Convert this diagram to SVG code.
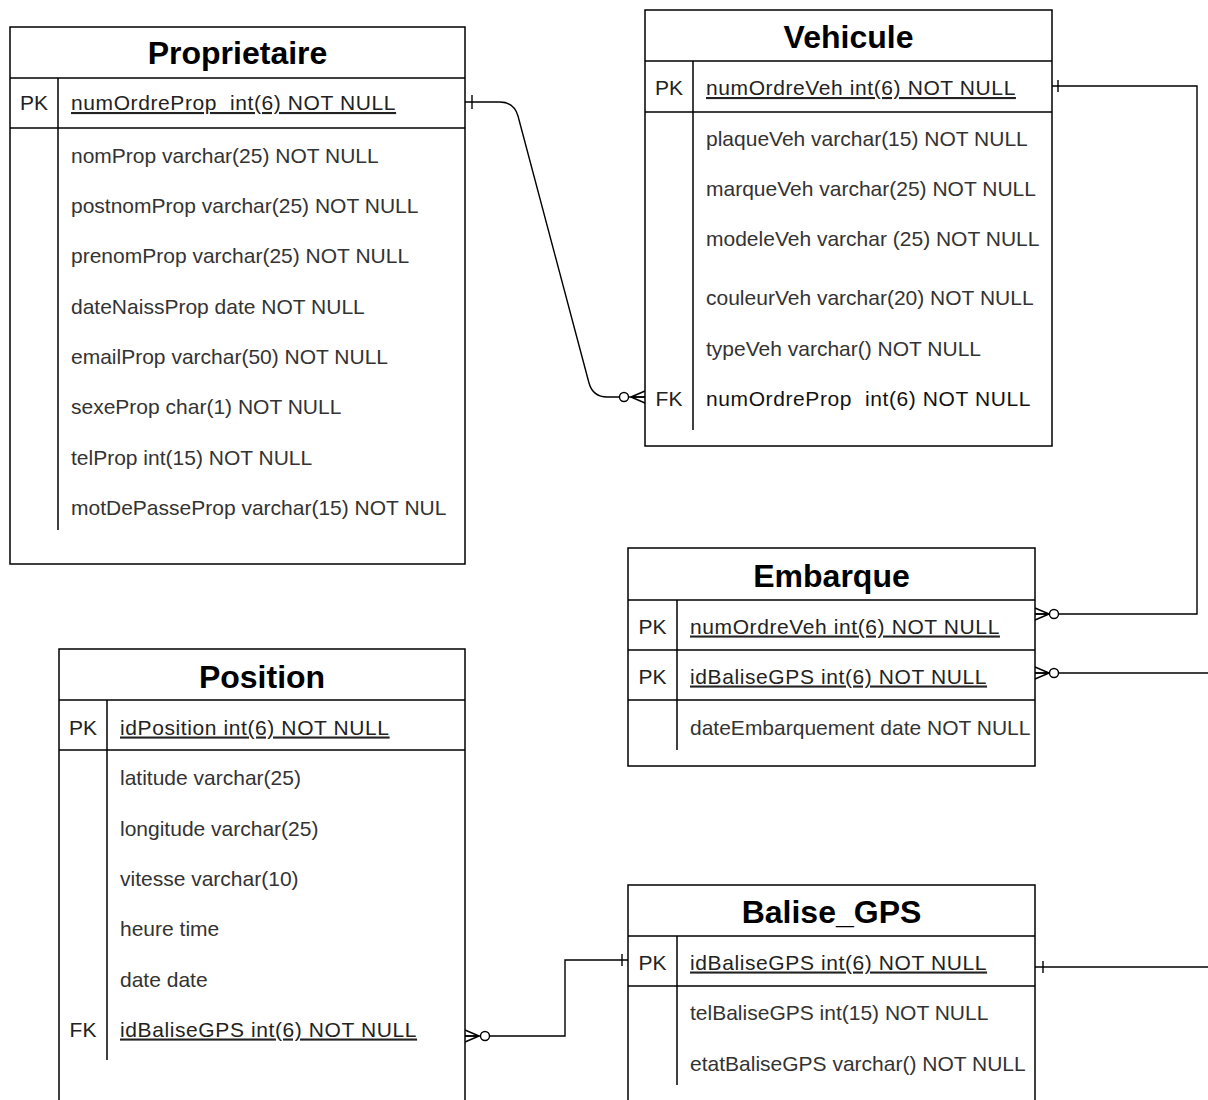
<svg xmlns="http://www.w3.org/2000/svg" width="1208" height="1100" viewBox="0 0 1208 1100">
<style>
.box{fill:#fff;stroke:#000;stroke-width:1.5}
.ln{stroke:#000;stroke-width:1.5;fill:none}
.title{font-family:"Liberation Sans",Arial,sans-serif;font-weight:bold;font-size:32px;fill:#000;text-anchor:middle}
.key{font-family:"Liberation Sans",Arial,sans-serif;font-size:21px;fill:#222;text-anchor:middle}
.fld{font-family:"Liberation Sans",Arial,sans-serif;font-size:21px;fill:#333}
.pk{text-decoration:underline;fill:#222;letter-spacing:0.6px}
.dark{fill:#111;letter-spacing:0.6px}
.conn{stroke:#000;stroke-width:1.4;fill:none}
.circ{stroke:#000;stroke-width:1.4;fill:#fff}
</style>
<rect width="1208" height="1100" fill="#fff"/>

<g id="connectors">
  <path class="conn" d="M465,102 L500,102 Q514,102 518,116 L589,383 Q593,397 607,397 L645,397"/>
  <line class="conn" x1="472" y1="95" x2="472" y2="109"/>
  <circle class="circ" cx="624" cy="397" r="4.5"/>
  <path class="conn" d="M631,397 L645,391 M631,397 L645,397 M631,397 L645,403"/>
  <path class="conn" d="M1052,86 L1197,86 L1197,614 L1035,614"/>
  <line class="conn" x1="1058" y1="80" x2="1058" y2="92"/>
  <circle class="circ" cx="1054" cy="614" r="4.5"/>
  <path class="conn" d="M1049,614 L1035,608 M1049,614 L1035,614 M1049,614 L1035,620"/>
  <path class="conn" d="M1035,673 L1208,673"/>
  <circle class="circ" cx="1054" cy="673" r="4.5"/>
  <path class="conn" d="M1049,673 L1035,667 M1049,673 L1035,673 M1049,673 L1035,679"/>
  <path class="conn" d="M1035,967 L1208,967"/>
  <line class="conn" x1="1043" y1="961" x2="1043" y2="973"/>
  <path class="conn" d="M465,1036 L565,1036 L565,960 L628,960"/>
  <line class="conn" x1="622" y1="954" x2="622" y2="966"/>
  <circle class="circ" cx="485" cy="1036" r="4.5"/>
  <path class="conn" d="M479,1036 L465,1030 M479,1036 L465,1036 M479,1036 L465,1042"/>
</g>

<g id="proprietaire">
  <rect class="box" x="10" y="27" width="455" height="537"/>
  <line class="ln" x1="10" y1="78" x2="465" y2="78"/>
  <line class="ln" x1="10" y1="128" x2="465" y2="128"/>
  <line class="ln" x1="58" y1="78" x2="58" y2="530"/>
  <text class="title" x="237.5" y="64">Proprietaire</text>
  <text class="key" x="34" y="110">PK</text>
  <text class="fld pk" x="71" y="110" xml:space="preserve">numOrdreProp  int(6) NOT NULL</text>
  <text class="fld" x="71" y="162.5">nomProp varchar(25) NOT NULL</text>
  <text class="fld" x="71" y="213">postnomProp varchar(25) NOT NULL</text>
  <text class="fld" x="71" y="263">prenomProp varchar(25) NOT NULL</text>
  <text class="fld" x="71" y="314">dateNaissProp date NOT NULL</text>
  <text class="fld" x="71" y="364">emailProp varchar(50) NOT NULL</text>
  <text class="fld" x="71" y="414">sexeProp char(1) NOT NULL</text>
  <text class="fld" x="71" y="465">telProp int(15) NOT NULL</text>
  <text class="fld" x="71" y="515">motDePasseProp varchar(15) NOT NUL</text>
</g>

<g id="vehicule">
  <rect class="box" x="645" y="10" width="407" height="436"/>
  <line class="ln" x1="645" y1="61" x2="1052" y2="61"/>
  <line class="ln" x1="645" y1="112" x2="1052" y2="112"/>
  <line class="ln" x1="693" y1="61" x2="693" y2="430"/>
  <text class="title" x="848.5" y="48">Vehicule</text>
  <text class="key" x="669" y="95">PK</text>
  <text class="fld pk" x="706" y="95">numOrdreVeh int(6) NOT NULL</text>
  <text class="fld" x="706" y="145.5">plaqueVeh varchar(15) NOT NULL</text>
  <text class="fld" x="706" y="195.5">marqueVeh varchar(25) NOT NULL</text>
  <text class="fld" x="706" y="245.5">modeleVeh varchar (25) NOT NULL</text>
  <text class="fld" x="706" y="304.5">couleurVeh varchar(20) NOT NULL</text>
  <text class="fld" x="706" y="355.5">typeVeh varchar() NOT NULL</text>
  <text class="key" x="669" y="405.5" fill="#111">FK</text>
  <text class="fld dark" x="706" y="405.5" xml:space="preserve">numOrdreProp  int(6) NOT NULL</text>
</g>

<g id="embarque">
  <rect class="box" x="628" y="548" width="407" height="218"/>
  <line class="ln" x1="628" y1="600" x2="1035" y2="600"/>
  <line class="ln" x1="628" y1="650" x2="1035" y2="650"/>
  <line class="ln" x1="628" y1="700" x2="1035" y2="700"/>
  <line class="ln" x1="677" y1="600" x2="677" y2="750"/>
  <text class="title" x="831.5" y="587">Embarque</text>
  <text class="key" x="652.5" y="633.5">PK</text>
  <text class="fld pk" x="690" y="633.5">numOrdreVeh int(6) NOT NULL</text>
  <text class="key" x="652.5" y="683.5">PK</text>
  <text class="fld pk" x="690" y="683.5">idBaliseGPS int(6) NOT NULL</text>
  <text class="fld" x="690" y="734.5">dateEmbarquement date NOT NULL</text>
</g>

<g id="position">
  <rect class="box" x="59" y="649" width="406" height="470"/>
  <line class="ln" x1="59" y1="700" x2="465" y2="700"/>
  <line class="ln" x1="59" y1="750" x2="465" y2="750"/>
  <line class="ln" x1="107" y1="700" x2="107" y2="1060"/>
  <text class="title" x="262" y="688">Position</text>
  <text class="key" x="83" y="734.5">PK</text>
  <text class="fld pk" x="120" y="734.5">idPosition int(6) NOT NULL</text>
  <text class="fld" x="120" y="784.5">latitude varchar(25)</text>
  <text class="fld" x="120" y="835.5">longitude varchar(25)</text>
  <text class="fld" x="120" y="885.5">vitesse varchar(10)</text>
  <text class="fld" x="120" y="935.5">heure time</text>
  <text class="fld" x="120" y="986.5">date date</text>
  <text class="key" x="83" y="1036.5">FK</text>
  <text class="fld pk" x="120" y="1036.5">idBaliseGPS int(6) NOT NULL</text>
</g>

<g id="balise_gps">
  <rect class="box" x="628" y="885" width="407" height="240"/>
  <line class="ln" x1="628" y1="936" x2="1035" y2="936"/>
  <line class="ln" x1="628" y1="986" x2="1035" y2="986"/>
  <line class="ln" x1="677" y1="936" x2="677" y2="1085"/>
  <text class="title" x="831.5" y="923">Balise_GPS</text>
  <text class="key" x="652.5" y="969.5">PK</text>
  <text class="fld pk" x="690" y="969.5">idBaliseGPS int(6) NOT NULL</text>
  <text class="fld" x="690" y="1019.5">telBaliseGPS int(15) NOT NULL</text>
  <text class="fld" x="690" y="1070.5">etatBaliseGPS varchar() NOT NULL</text>
</g>
</svg>
